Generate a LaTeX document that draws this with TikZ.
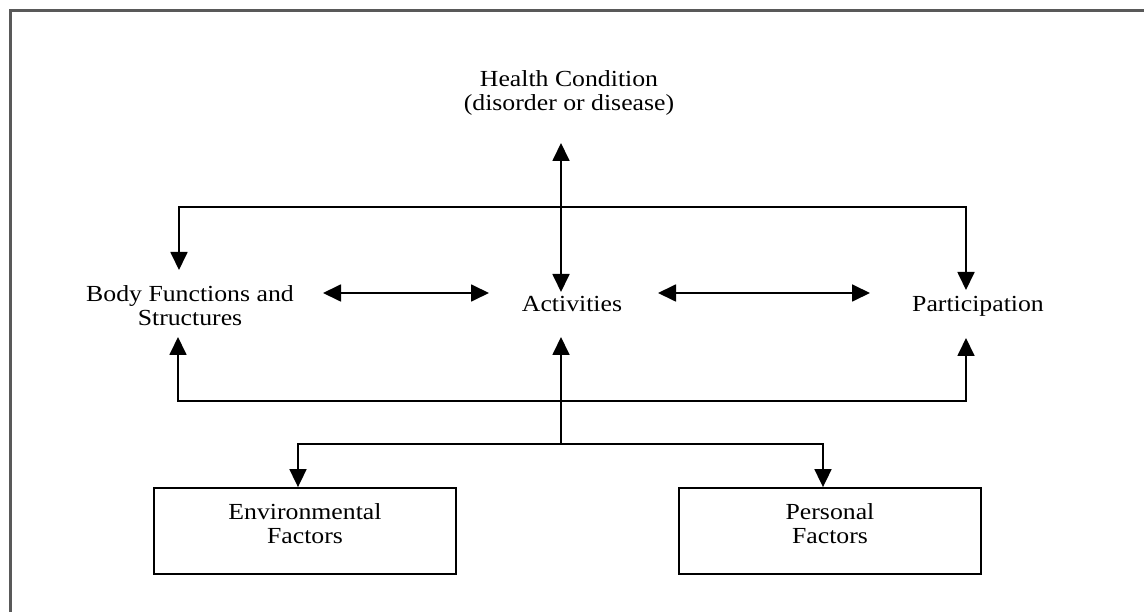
\documentclass[tikz,border=0pt]{standalone}
\usepackage{fontspec}
\setmainfont{Liberation Serif}[FakeStretch=1.12]
\usetikzlibrary{arrows.meta}

\tikzset{
    lbl/.style={inner sep=0pt, align=center, font=\fontsize{23}{23.5}\selectfont, text height=16pt, text depth=6pt},
    lbl2/.style={lbl, text height=39.5pt, text depth=6pt},
    factor/.style={lbl, draw, line width=1.8pt, minimum width=302pt, minimum height=86pt, text height=39.5pt, text depth=15.5pt},
    arr/.style={line width=1.8pt, -{Triangle[length=18pt,width=17pt]}},
    dbl/.style={line width=1.8pt, {Triangle[length=18pt,width=17pt]}-{Triangle[length=18pt,width=17pt]}},
}

\begin{document}
\begin{tikzpicture}[x=1pt,y=-1pt]
    \useasboundingbox (0,0) rectangle (1144,612);
    % frame (top and left edges only)
    \draw[line width=3pt, black!65] (1144,11) -- (10,11) -- (10,612);

    \node[lbl2] at (569,93.75)  (hc)   {Health Condition\\(disorder or disease)};
    \node[lbl2] at (190,308.75) (body) {Body Functions and\\Structures};
    \node[lbl]  at (572,307)    (act)  {Activities};
    \node[lbl]  at (978,307)    (part) {Participation};
    \node[factor] at (305,531)  (env)  {Environmental\\Factors};
    \node[factor] at (830,531)  (pers) {Personal\\Factors};

    \coordinate (top)  at (561,207);
    \coordinate (low)  at (561,401);
    \coordinate (fork) at (561,444);

    \draw[dbl] ([shift={(-8,49.25)}]hc.center) -- ([shift={(-11,-15)}]act.center);
    \draw[dbl] ([shift={(-11,-38.75)}]body.center) |- (top) -| ([shift={(-12,-17)}]part.center);
    \draw[dbl] ([shift={(133,-15.75)}]body.center) -- ([shift={(-83,-14)}]act.center);
    \draw[dbl] ([shift={(86,-14)}]act.center) -- ([shift={(-108,-14)}]part.center);
    \draw[dbl] ([shift={(-12,28.25)}]body.center) |- (low) -| ([shift={(-12,31)}]part.center);
    \draw[arr] (fork) -- ([shift={(-11,30)}]act.center);
    \draw[dbl] ([xshift=-7pt]env.north) |- (fork) -| ([xshift=-7pt]pers.north);
\end{tikzpicture}
\end{document}
